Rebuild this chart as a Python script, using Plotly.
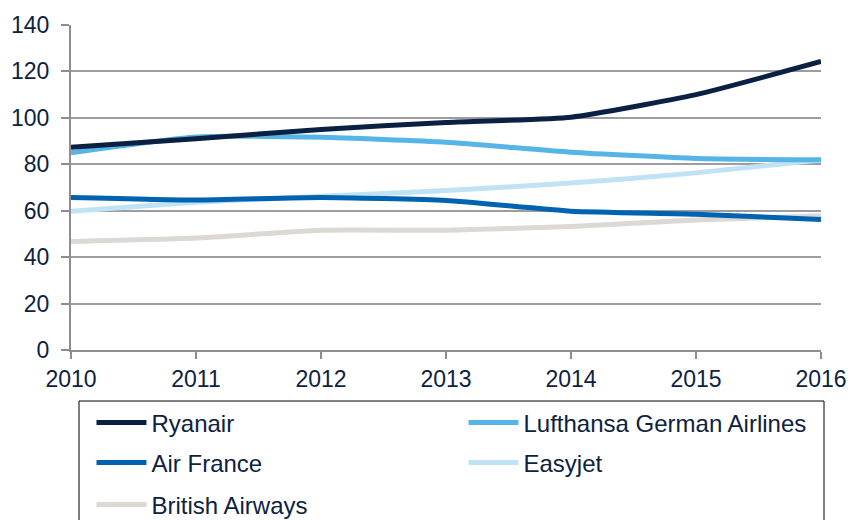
import plotly.graph_objects as go

years = [2010, 2011, 2012, 2013, 2014, 2015, 2016]
ryanair = [87.3, 91.0, 95.0, 98.0, 100.3, 110.0, 124.3]
lufthansa = [85.0, 91.8, 91.6, 89.5, 85.2, 82.5, 81.9]
air_france = [65.7, 64.6, 65.7, 64.4, 59.8, 58.5, 56.2]
easyjet = [59.8, 63.6, 66.2, 68.7, 71.9, 76.3, 81.9]
british_airways = [46.7, 48.2, 51.6, 51.6, 53.2, 56.0, 57.8]

series = [
    ("Ryanair", ryanair, "#0b2143", "legend"),
    ("Lufthansa German Airlines", lufthansa, "#56b4e6", "legend"),
    ("Air France", air_france, "#0063b1", "legend2"),
    ("Easyjet", easyjet, "#bfe3f5", "legend2"),
    ("British Airways", british_airways, "#dcd8d4", "legend3"),
]

fig = go.Figure()
# draw in reverse so Ryanair is on top; legend order kept via legendrank
for i, (name, vals, col, leg) in enumerate(reversed(series)):
    rank = len(series) - i
    fig.add_trace(go.Scatter(
        x=years, y=vals, name=name, mode="lines",
        line=dict(color=col, width=5, shape="spline", smoothing=0.5),
        legendrank=rank, legend=leg,
    ))

font_col = "#0d2240"
leg_common = dict(
    orientation="h", xanchor="left", yanchor="middle",
    entrywidth=307, entrywidthmode="pixels",
    itemwidth=50,
    font=dict(size=24, color=font_col),
    traceorder="normal",
    bgcolor="rgba(0,0,0,0)",
)
lx = 0.0273
fig.update_layout(
    width=850, height=520,
    margin=dict(l=71, r=29, t=25, b=170, autoexpand=False),
    paper_bgcolor="white", plot_bgcolor="white",
    font=dict(family="Liberation Sans, Arial, sans-serif", size=23, color=font_col),
    showlegend=True,
    legend=dict(x=lx, y=-0.2246, **leg_common),
    legend2=dict(x=lx, y=-0.3477, **leg_common),
    legend3=dict(x=lx, y=-0.4769, **leg_common),
    shapes=[dict(
        type="rect", xref="paper", yref="paper",
        x0=0.0107, x1=1.0040, y0=-0.157, y1=-0.7,
        line=dict(color="#000000", width=1), fillcolor="rgba(0,0,0,0)",
        layer="below",
    )],
)
fig.update_xaxes(
    range=[2010, 2016], tickmode="array", tickvals=years,
    ticktext=[str(y) for y in years],
    showgrid=False, zeroline=False, automargin=False,
    showline=True, linecolor="#8e8e92", linewidth=2,
    ticks="outside", ticklen=7, tickwidth=1.5, tickcolor="#8e8e92",
    tickfont=dict(size=23, color=font_col),
)
fig.update_yaxes(
    range=[0, 140], tickvals=[0, 20, 40, 60, 80, 100, 120, 140],
    showgrid=True, gridcolor="#9d9da1", gridwidth=1.5, zeroline=False,
    automargin=False,
    showline=True, linecolor="#8e8e92", linewidth=2,
    ticks="outside", ticklen=8, tickwidth=1.5, tickcolor="#8e8e92",
    ticklabelstandoff=7,
    tickfont=dict(size=23, color=font_col),
)

fig.write_html(
    "out.html",
    config={"displayModeBar": False},
    post_script="document.body.style.margin='0';document.body.style.overflow='hidden';",
)
